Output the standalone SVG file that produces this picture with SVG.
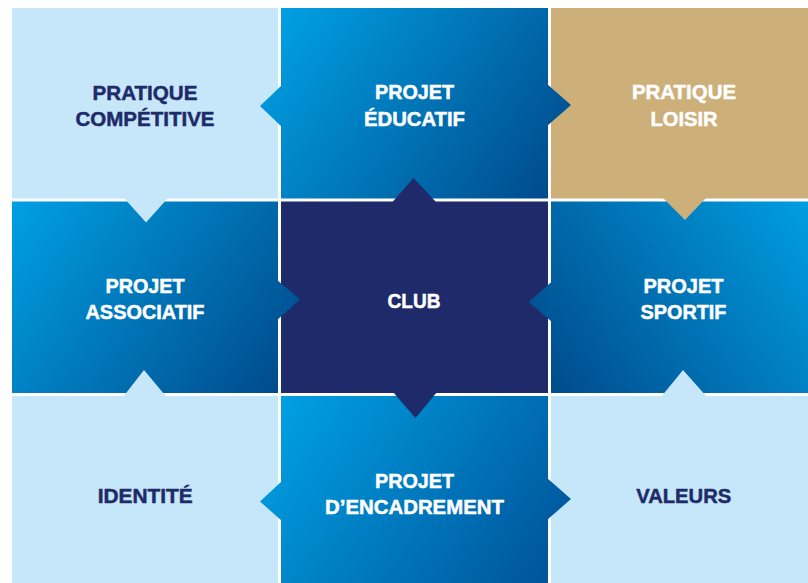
<svg xmlns="http://www.w3.org/2000/svg" width="808" height="583" viewBox="0 0 808 583">
<style>
.t{font-family:"Liberation Sans",Arial,sans-serif;font-weight:bold;font-size:21px;text-anchor:middle;stroke-width:0.5}
.w{fill:#FFFFFF;stroke:#FFFFFF}
.d{fill:#1E2A69;stroke:#1E2A69}
.light{fill:#C6E7F9}
.tan{fill:#CDAF7A}
.club{fill:#1E2A69}
</style>
<defs>
<linearGradient id="gEdu" gradientUnits="userSpaceOnUse" x1="281" y1="8" x2="548" y2="198"><stop offset="0" stop-color="#00A0E3"/><stop offset="1" stop-color="#004B8C"/></linearGradient>
<linearGradient id="gAsso" gradientUnits="userSpaceOnUse" x1="12" y1="201" x2="278" y2="393"><stop offset="0" stop-color="#00A0E3"/><stop offset="1" stop-color="#004B8C"/></linearGradient>
<linearGradient id="gSport" gradientUnits="userSpaceOnUse" x1="818" y1="201" x2="551" y2="393"><stop offset="0" stop-color="#00A0E3"/><stop offset="1" stop-color="#004B8C"/></linearGradient>
<linearGradient id="gEnc" gradientUnits="userSpaceOnUse" x1="281" y1="396" x2="548" y2="583"><stop offset="0" stop-color="#00A0E3"/><stop offset="1" stop-color="#00549A"/></linearGradient>
</defs>
<rect width="808" height="583" fill="#FFFFFF"/>
<g id="pratique-competitive">
<rect class="light" x="12" y="8" width="266" height="190.5"/>
<text class="t d" x="145" y="99.5" textLength="105" lengthAdjust="spacingAndGlyphs">PRATIQUE</text>
<text class="t d" x="145" y="126" textLength="139" lengthAdjust="spacingAndGlyphs">COMPÉTITIVE</text>
</g>
<g id="projet-educatif">
<rect fill="url(#gEdu)" x="281" y="8" width="267" height="190.5"/>
<text class="t w" x="414.5" y="99.3" textLength="79" lengthAdjust="spacingAndGlyphs">PROJET</text>
<text class="t w" x="414.5" y="125.5" textLength="101" lengthAdjust="spacingAndGlyphs">ÉDUCATIF</text>
</g>
<g id="pratique-loisir">
<rect class="tan" x="551" y="8" width="257" height="190.5"/>
<text class="t w" x="684" y="99.3" textLength="104" lengthAdjust="spacingAndGlyphs">PRATIQUE</text>
<text class="t w" x="684" y="126" textLength="67" lengthAdjust="spacingAndGlyphs">LOISIR</text>
</g>
<g id="projet-associatif">
<rect fill="url(#gAsso)" x="12" y="201.5" width="266" height="191.5"/>
<text class="t w" x="145" y="292.7" textLength="79" lengthAdjust="spacingAndGlyphs">PROJET</text>
<text class="t w" x="145" y="319.3" textLength="119" lengthAdjust="spacingAndGlyphs">ASSOCIATIF</text>
</g>
<g id="club">
<rect class="club" x="281" y="201.5" width="267" height="191.5"/>
<text class="t w" x="414" y="308.3" textLength="53" lengthAdjust="spacingAndGlyphs">CLUB</text>
</g>
<g id="projet-sportif">
<rect fill="url(#gSport)" x="551" y="201.5" width="257" height="191.5"/>
<text class="t w" x="683.5" y="292.7" textLength="80" lengthAdjust="spacingAndGlyphs">PROJET</text>
<text class="t w" x="683.5" y="319.3" textLength="86" lengthAdjust="spacingAndGlyphs">SPORTIF</text>
</g>
<g id="identite">
<rect class="light" x="12" y="396" width="266" height="187"/>
<text class="t d" x="145.2" y="502.7" textLength="95" lengthAdjust="spacingAndGlyphs">IDENTITÉ</text>
</g>
<g id="projet-encadrement">
<rect fill="url(#gEnc)" x="281" y="396" width="267" height="187"/>
<text class="t w" x="414.5" y="487.7" textLength="79" lengthAdjust="spacingAndGlyphs">PROJET</text>
<text class="t w" x="414.5" y="514.3" textLength="179" lengthAdjust="spacingAndGlyphs">D’ENCADREMENT</text>
</g>
<g id="valeurs">
<rect class="light" x="551" y="396" width="257" height="187"/>
<text class="t d" x="683.7" y="502.7" textLength="95" lengthAdjust="spacingAndGlyphs">VALEURS</text>
</g>
<g id="connectors">
<polygon class="light" points="124,198 168,198 146,222.5"/>
<polygon fill="url(#gEdu)" points="282,85 282,127 260,106"/>
<polygon fill="url(#gEdu)" points="547,84 547,126 571,105"/>
<polygon class="tan" points="663,198 706,198 685,220"/>
<polygon fill="url(#gAsso)" points="277,280 277,320 300,299.5"/>
<polygon class="club" points="392.5,202 436,202 413.5,178"/>
<polygon class="club" points="393,392 437,392 415.5,418"/>
<polygon fill="url(#gSport)" points="552,281.5 552,322 528.7,302"/>
<polygon class="light" points="123,397 166.5,397 144,370"/>
<polygon fill="url(#gEnc)" points="282,481 282,521 260,501.5"/>
<polygon fill="url(#gEnc)" points="547,478 547,520 571,499"/>
<polygon class="light" points="661,397 707,397 683,370"/>
</g>
</svg>
